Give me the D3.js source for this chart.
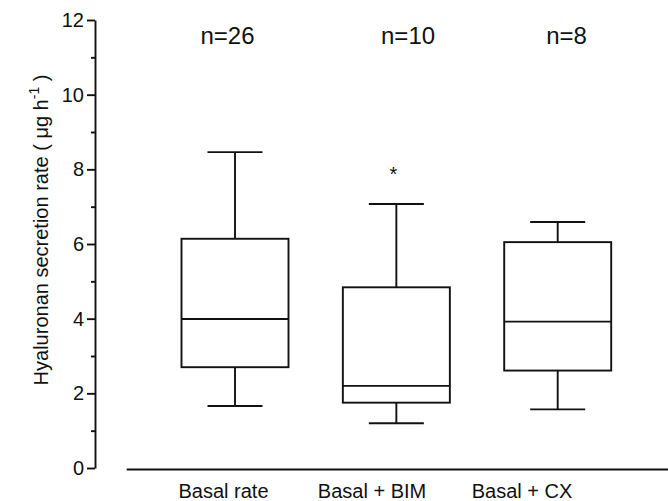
<!DOCTYPE html>
<html>
<head>
<meta charset="utf-8">
<script src="https://cdn.jsdelivr.net/npm/d3@7/dist/d3.min.js"></script>
<style>
  html, body { margin: 0; padding: 0; background: #fff; }
  svg { display: block; font-family: "Liberation Sans", Arial, sans-serif; }
</style>
</head>
<body>
<svg id="chart" width="668" height="501"></svg>
<script>
// Hyaluronan secretion rate per condition (μg h⁻¹), box-and-whisker summaries
const categories = ["Basal rate", "Basal + BIM", "Basal + CX"];
const sampleSizes = [26, 10, 8];
const whiskerLow  = [1.66, 1.20, 1.57];
const quartile1   = [2.70, 1.75, 2.61];
const medians     = [3.99, 2.20, 3.92];
const quartile3   = [6.14, 4.84, 6.05];
const whiskerHigh = [8.46, 7.07, 6.59];
const outliers    = [[], [8.0], []];
const yTicks      = [0, 2, 4, 6, 8, 10, 12];
const yMinorTicks = [1, 3, 5, 7, 9, 11];

const svg = d3.select("#chart");
const ink = "#111";
const lw = 1.9;

const y = d3.scaleLinear().domain([0, 12]).range([468, 20]);
const x = d3.scalePoint().domain(categories).range([235, 557.7]);
const boxW = 107, capW = 55;

// shifts of the n= and category captions relative to each box centre
const nShift = [-7.5, 11.7, 8.8];
const catShift = [-11.5, -24.3, -35.7];

// y axis: labelled majors and short minor ticks
const axisG = svg.append("g").attr("transform", "translate(95,0)");
axisG.call(d3.axisLeft(y).tickValues(yTicks).tickFormat(d3.format("d"))
    .tickSize(8).tickPadding(3).tickSizeOuter(0))
  .call(g => g.select(".domain").attr("stroke", ink).attr("stroke-width", lw))
  .call(g => g.selectAll(".tick line").attr("stroke", ink).attr("stroke-width", lw))
  .call(g => g.selectAll(".tick text").attr("fill", ink)
    .style("font-size", "20px").style("font-family", "Liberation Sans, Arial, sans-serif"));
axisG.append("g").call(d3.axisLeft(y).tickValues(yMinorTicks).tickFormat("").tickSize(4).tickSizeOuter(0))
  .call(g => g.select(".domain").remove())
  .call(g => g.selectAll(".tick line").attr("stroke", ink).attr("stroke-width", lw));

// y axis title with superscript
const title = svg.append("text")
  .attr("transform", `translate(48,${(y(0) + y(12)) / 2 - 14}) rotate(-90)`)
  .attr("text-anchor", "middle")
  .attr("fill", ink)
  .style("font-size", "20px");
title.append("tspan").text("Hyaluronan secretion rate ( μg h");
title.append("tspan").attr("dy", -9).style("font-size", "14px").text("-1");
title.append("tspan").attr("dy", 9).text(" )");

// baseline under the boxes
svg.append("line")
  .attr("x1", 126.7).attr("x2", 668)
  .attr("y1", 469.5).attr("y2", 469.5)
  .attr("stroke", ink).attr("stroke-width", lw);

// boxes
const boxes = svg.append("g").selectAll("g").data(categories).join("g")
  .attr("fill", "none").attr("stroke", ink).attr("stroke-width", lw);

boxes.each(function (c, i) {
  const g = d3.select(this);
  const cx = x(c);
  g.append("line").attr("x1", cx).attr("x2", cx)
    .attr("y1", y(whiskerHigh[i])).attr("y2", y(quartile3[i]));
  g.append("line").attr("x1", cx).attr("x2", cx)
    .attr("y1", y(quartile1[i])).attr("y2", y(whiskerLow[i]));
  g.append("line").attr("x1", cx - capW / 2).attr("x2", cx + capW / 2)
    .attr("y1", y(whiskerHigh[i])).attr("y2", y(whiskerHigh[i]));
  g.append("line").attr("x1", cx - capW / 2).attr("x2", cx + capW / 2)
    .attr("y1", y(whiskerLow[i])).attr("y2", y(whiskerLow[i]));
  g.append("rect").attr("x", cx - boxW / 2).attr("width", boxW)
    .attr("y", y(quartile3[i])).attr("height", y(quartile1[i]) - y(quartile3[i]))
    .attr("fill", "#fff");
  g.append("line").attr("x1", cx - boxW / 2).attr("x2", cx + boxW / 2)
    .attr("y1", y(medians[i])).attr("y2", y(medians[i]));
  outliers[i].forEach(v => {
    svg.append("text").attr("x", cx - 3).attr("y", y(v) + 11.5)
      .attr("text-anchor", "middle").attr("fill", ink)
      .style("font-size", "20px").text("*");
  });
});

// sample sizes above each box
svg.append("g").selectAll("text").data(categories).join("text")
  .attr("x", (c, i) => x(c) + nShift[i])
  .attr("y", 44)
  .attr("text-anchor", "middle").attr("fill", ink)
  .style("font-size", "24px")
  .text((c, i) => `n=${sampleSizes[i]}`);

// category captions
svg.append("g").selectAll("text").data(categories).join("text")
  .attr("x", (c, i) => x(c) + catShift[i])
  .attr("y", 498)
  .attr("text-anchor", "middle").attr("fill", ink)
  .style("font-size", "20px")
  .text(c => c);
</script>
</body>
</html>
